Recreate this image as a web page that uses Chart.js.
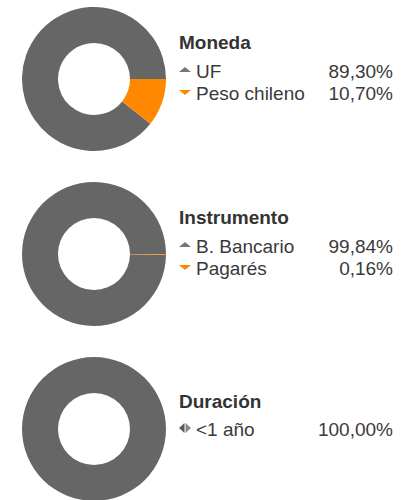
<!DOCTYPE html>
<html><head><meta charset="utf-8">
<script src="https://cdn.jsdelivr.net/npm/chart.js@4/dist/chart.umd.min.js"></script>
<style>
html,body{margin:0;padding:0;background:#fff;width:414px;height:500px;overflow:hidden;font-family:"Liberation Sans",Arial,sans-serif;}
.cv{position:absolute;left:22px;width:144px;height:144px;}
.t{position:absolute;left:179px;font-weight:bold;font-size:19px;line-height:20px;color:#333;white-space:nowrap;}
.r{position:absolute;left:179px;width:214px;font-size:19px;line-height:20px;color:#3a3a3a;white-space:nowrap;}
.r .v{position:absolute;right:0;top:0;}
.r .l{position:absolute;left:17px;top:0;}
.up{position:absolute;left:0;top:5px;width:0;height:0;border-left:6px solid transparent;border-right:6px solid transparent;border-bottom:5px solid #777;}
.dn{position:absolute;left:0;top:6px;width:0;height:0;border-left:6px solid transparent;border-right:6px solid transparent;border-top:5px solid #ff8800;}
.lr{position:absolute;left:0;top:3px;}
</style></head><body>
<div class="cv" style="top:7px"><canvas id="c1"></canvas></div>
<div class="cv" style="top:182px"><canvas id="c2"></canvas></div>
<div class="cv" style="top:357px"><canvas id="c3"></canvas></div>
<div id="legends"></div>
<script>
const titles = ["Moneda", "Instrumento", "Duración"];
const monedaLabels = ["UF", "Peso chileno"];
const monedaValues = [89.30, 10.70];
const instrumentoLabels = ["B. Bancario", "Pagarés"];
const instrumentoValues = [99.84, 0.16];
const duracionLabels = ["<1 año"];
const duracionValues = [100.00];

const GRAY = "#666666", ORANGE = "#ff8800";

function fmt(v){ return v.toFixed(2).replace(".", ",") + "%"; }

function donut(id, labels, values){
  const colors = values.length > 1 ? [GRAY, ORANGE] : [GRAY];
  const last = values.length > 1 ? values[values.length-1] : 0;
  new Chart(document.getElementById(id), {
    type: "doughnut",
    data: { labels: labels, datasets: [{ data: values, backgroundColor: colors, borderWidth: 0, hoverOffset: 0 }] },
    options: {
      responsive: true, maintainAspectRatio: false, animation: false,
      cutout: "50%",
      rotation: 90 + last * 3.6,
      layout: { padding: 0 },
      plugins: { legend: { display: false }, tooltip: { enabled: false } }
    }
  });
}
donut("c1", monedaLabels, monedaValues);
donut("c2", instrumentoLabels, instrumentoValues);
donut("c3", duracionLabels, duracionValues);

const L = document.getElementById("legends");
function addText(cls, top, html){
  const d = document.createElement("div");
  d.className = cls; d.style.top = top + "px"; d.innerHTML = html; L.appendChild(d);
}
function esc(s){ return s.replace(/&/g,"&amp;").replace(/</g,"&lt;"); }
function block(title, labels, values, titleTop, rowTops){
  addText("t", titleTop, esc(title));
  labels.forEach((lab, i) => {
    let icon;
    if (labels.length === 1) icon = '<svg class="lr" width="12" height="10"><polygon points="5.5,0 5.5,10 0,5" fill="#5a5a5a"/><polygon points="6.5,0 6.5,10 12,5" fill="#8a8a8a"/></svg>';
    else icon = i === 0 ? '<span class="up"></span>' : '<span class="dn"></span>';
    addText("r", rowTops[i], icon + '<span class="l">' + esc(lab) + '</span><span class="v">' + fmt(values[i]) + '</span>');
  });
}
block(titles[0], monedaLabels, monedaValues, 32.5, [61.7, 84.1]);
block(titles[1], instrumentoLabels, instrumentoValues, 207.5, [236.7, 259.1]);
block(titles[2], duracionLabels, duracionValues, 391.7, [420.1]);
</script>
</body></html>
